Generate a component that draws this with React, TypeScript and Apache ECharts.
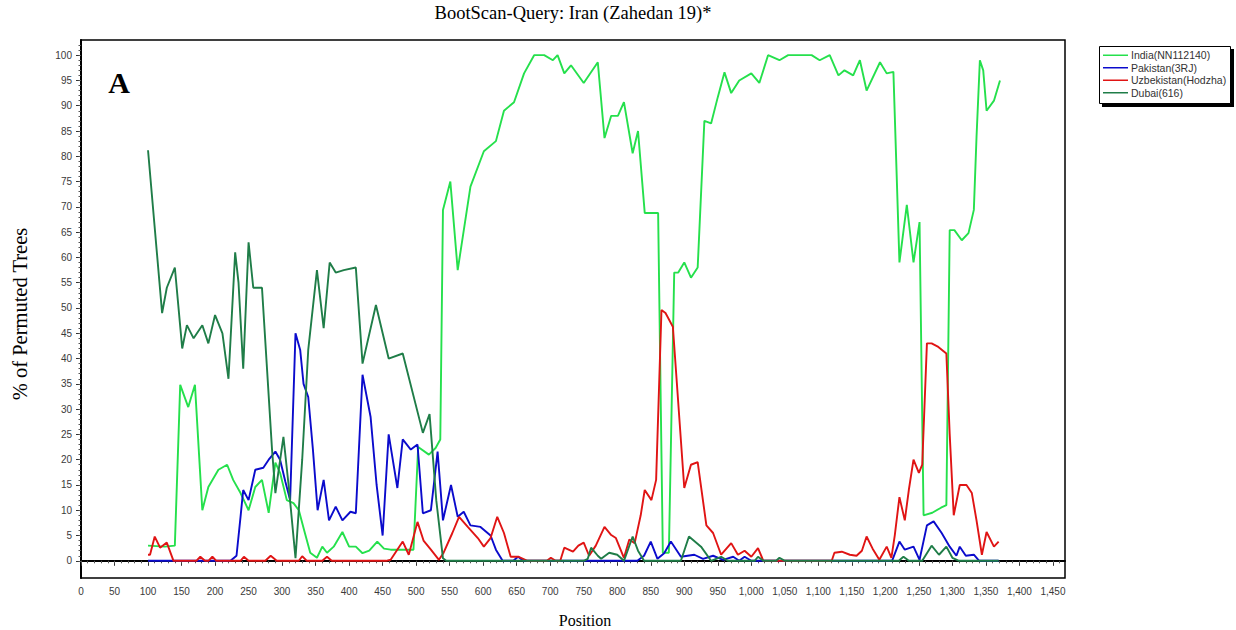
import React, { useEffect, useRef } from "react";
import * as echarts from "echarts";

const seriesNames = ["India(NN112140)", "Pakistan(3RJ)", "Uzbekistan(Hodzha)", "Dubai(616)"];
const seriesColors = ["#25e04c", "#0b0bcc", "#e01414", "#1f7d48"];

const xMajorTicks = [0, 50, 100, 150, 200, 250, 300, 350, 400, 450, 500, 550, 600, 650, 700, 750, 800, 850, 900, 950, 1000, 1050, 1100, 1150, 1200, 1250, 1300, 1350, 1400, 1450];
const yMajorTicks = [0, 5, 10, 15, 20, 25, 30, 35, 40, 45, 50, 55, 60, 65, 70, 75, 80, 85, 90, 95, 100];

const india = [
  [100, 3], [125, 2.8], [140, 3], [148, 34.8], [160, 30.4], [170, 34.8], [181, 10], [190, 14.6], [205, 18], [218, 19], [227, 16],
  [238, 13.4], [250, 10], [260, 14.6], [270, 16], [280, 9.5], [290, 19.4], [297, 17.4], [307, 12], [317, 11.4], [325, 10], [333, 6],
  [342, 1.6], [352, 0.6], [360, 2.8], [367, 1.6], [377, 2.8], [390, 5.7], [400, 2.8], [410, 2.8], [420, 1.5], [430, 2], [442, 3.8],
  [452, 2.4], [462, 2.2], [496, 2.2], [503, 22.5], [519, 21], [529, 22.3], [536, 24], [540, 69.4], [551, 75], [562, 57.5], [581, 74],
  [601, 81], [619, 83], [631, 89], [646, 90.7], [661, 96.4], [676, 100], [691, 100], [704, 99], [711, 100], [721, 96.4], [731, 98],
  [750, 94.5], [771, 98.6], [781, 83.6], [791, 88], [801, 88], [810, 90.7], [823, 80.6], [831, 85], [841, 68.8], [861, 68.8],
  [868, 1.6], [877, 1.6], [885, 57], [891, 57], [900, 59], [910, 56], [920, 58], [930, 87], [940, 86.5], [950, 91.7], [960, 96.6],
  [970, 92.5], [982, 95], [1000, 96.4], [1012, 94.5], [1025, 100], [1042, 99], [1055, 100], [1090, 100], [1102, 99], [1117, 100],
  [1130, 96], [1139, 97], [1152, 96], [1162, 99], [1172, 93], [1192, 98.6], [1202, 96.4], [1212, 96.7], [1221, 59], [1232, 70.4],
  [1242, 59], [1251, 67], [1257, 9], [1270, 9.5], [1283, 10.5], [1291, 11], [1296, 65.4], [1303, 65.4], [1314, 63.4], [1324, 64.8],
  [1332, 69.4], [1336, 83.8], [1341, 99], [1346, 97], [1351, 89], [1362, 91], [1371, 95],
];

const pakistan = [
  [100, 0], [223, 0], [232, 1], [238, 8.7], [242, 14], [250, 12], [260, 18], [272, 18.4], [280, 20], [290, 21.6], [297, 20],
  [305, 15.6], [312, 12], [320, 45], [327, 41.7], [332, 35], [339, 32.4], [346, 22], [353, 10], [362, 16], [370, 8], [380, 10.7],
  [390, 8], [402, 9.7], [410, 9.4], [420, 36.8], [432, 28.5], [441, 15], [450, 5], [459, 25], [472, 14.4], [480, 24], [492, 22],
  [502, 23], [510, 9.4], [522, 10], [532, 21.6], [540, 8], [552, 15], [562, 8.7], [571, 9.7], [581, 7], [596, 6.7], [611, 5],
  [619, 2.2], [629, 0], [645, 0], [652, 0.8], [660, 0], [830, 0], [840, 1], [850, 3.8], [860, 0.4], [870, 1.5], [880, 3.8],
  [895, 0.8], [905, 1], [915, 1.2], [928, 0.4], [943, 1], [958, 0.2], [973, 0.8], [982, 0], [990, 0.8], [1000, 0], [1210, 0],
  [1221, 3.8], [1229, 2.2], [1242, 2.8], [1251, 0.2], [1262, 7], [1272, 7.8], [1284, 5.5], [1296, 2.8], [1306, 1], [1311, 2.8],
  [1320, 1], [1332, 1.2], [1340, 0], [1369, 0],
];

const uzbekistan = [
  [100, 1.2], [103, 1.2], [110, 4.8], [118, 2.6], [128, 3.6], [138, 0], [172, 0], [178, 0.8], [185, 0], [190, 0], [196, 0.8],
  [202, 0], [238, 0], [243, 0.8], [250, 0], [275, 0], [283, 1], [292, 0], [325, 0], [330, 0.9], [337, 0], [360, 0], [367, 0.8],
  [374, 0], [455, 0], [462, 0.2], [480, 3.8], [489, 1.2], [502, 7.7], [511, 4], [522, 2.2], [534, 0.2], [541, 1.6], [554, 5.5],
  [564, 8.7], [577, 6.7], [592, 4.5], [601, 2.8], [611, 4.5], [621, 8.7], [631, 5.5], [641, 0.8], [653, 0.8], [666, 0], [695, 0],
  [701, 0.6], [708, 0], [715, 0], [721, 2.6], [734, 1.8], [742, 3], [750, 3.6], [758, 1], [768, 3], [781, 6.7], [791, 5.1],
  [798, 4.5], [810, 0.6], [818, 4.2], [826, 3.5], [835, 9], [841, 14], [851, 12], [858, 16], [866, 49.6], [872, 49], [883, 46.3],
  [900, 14.4], [910, 19], [920, 19.5], [933, 7], [943, 5.5], [955, 1.2], [970, 3.5], [980, 1.2], [990, 2], [1000, 0.8], [1010, 2.5],
  [1018, 0], [1120, 0], [1124, 1.6], [1135, 1.8], [1147, 1.2], [1157, 1], [1165, 2], [1172, 4.8], [1181, 2.4], [1191, 0.2],
  [1202, 2.8], [1209, 0.6], [1214, 5], [1221, 12.6], [1229, 8], [1235, 14], [1242, 20], [1250, 17.4], [1255, 19], [1262, 43],
  [1269, 43], [1279, 42.3], [1291, 41], [1296, 25], [1302, 9], [1311, 15], [1321, 15], [1329, 13.4], [1336, 8], [1344, 1.2],
  [1351, 5.7], [1362, 2.8], [1369, 3.8],
];

const dubai = [
  [100, 81.2], [121, 49], [128, 54], [140, 58], [151, 42], [158, 46.6], [168, 44], [181, 46.6], [190, 43], [200, 48.6], [211, 45],
  [220, 36], [230, 61], [235, 55], [242, 38], [250, 63], [257, 54], [270, 54], [285, 22], [290, 13.4], [302, 24.5], [310, 14.6],
  [320, 0.5], [330, 20], [339, 41.7], [352, 57.5], [362, 46], [371, 59], [380, 57], [392, 57.5], [410, 58], [420, 39], [440, 50.6],
  [459, 40], [480, 41], [510, 25.3], [520, 29], [530, 12], [540, 0.5], [545, 0], [750, 0], [756, 0.4], [761, 2.6], [771, 1],
  [776, 0.4], [788, 1.6], [800, 1.2], [810, 0], [823, 4.8], [831, 2], [840, 0], [895, 0], [907, 4.8], [925, 2.8], [940, 0],
  [955, 0.8], [965, 0], [1005, 0], [1010, 0.8], [1018, 0], [1037, 0], [1042, 0.6], [1050, 0], [1220, 0], [1227, 0.8], [1235, 0],
  [1255, 0], [1269, 3], [1280, 1.2], [1291, 2.8], [1300, 0.6], [1310, 0], [1369, 0],
];

const seriesData = [india, pakistan, uzbekistan, dubai];

export default function App() {
  const ref = useRef<HTMLDivElement>(null);
  useEffect(() => {
    if (!ref.current) return;
    const chart = echarts.init(ref.current, undefined, { renderer: "svg" });
    const xMinor: number[] = [];
    for (let v = 0; v <= 1460; v += 10) xMinor.push(v);
    const yMinor: number[] = [];
    for (let v = 0; v <= 102; v += 1) yMinor.push(v);
    const serif = "'Liberation Serif', 'Times New Roman', serif";
    const sans = "'Liberation Sans', Arial, sans-serif";
    chart.setOption({
      animation: false,
      backgroundColor: "#ffffff",
      grid: { left: 81, top: 40, width: 984, height: 538, show: true, borderColor: "#000", borderWidth: 1.5, backgroundColor: "transparent" },
      xAxis: [
        {
          type: "value", min: 0, max: 1468, position: "bottom",
          axisLine: { lineStyle: { color: "#000", width: 2 } },
          axisTick: { show: true, customValues: xMajorTicks, length: 5, lineStyle: { color: "#333" } },
          axisLabel: { customValues: xMajorTicks, fontSize: 10, color: "#3a3a3a", fontFamily: sans, margin: 8,
            formatter: (v: number) => v.toLocaleString("en-US") },
          splitLine: { show: false },
        },
        {
          type: "value", min: 0, max: 1468, position: "bottom",
          axisLine: { show: false },
          axisTick: { show: true, customValues: xMinor, length: 2.5, lineStyle: { color: "#555" } },
          axisLabel: { show: false },
          splitLine: { show: false },
        },
      ],
      yAxis: [
        {
          type: "value", min: -3.4, max: 103,
          axisLine: { show: true, lineStyle: { color: "#000", width: 2 } },
          axisTick: { show: true, customValues: yMajorTicks, length: 5, lineStyle: { color: "#333" } },
          axisLabel: { customValues: yMajorTicks, fontSize: 10, color: "#3a3a3a", fontFamily: sans, margin: 9 },
          splitLine: { show: false },
        },
        {
          type: "value", min: -3.4, max: 103, position: "left",
          axisLine: { show: false },
          axisTick: { show: true, customValues: yMinor, length: 2.5, lineStyle: { color: "#555" } },
          axisLabel: { show: false },
          splitLine: { show: false },
        },
      ],
      legend: {
        orient: "vertical", left: 1103, top: 49, padding: 0, itemGap: 0,
        icon: "rect", itemWidth: 25, itemHeight: 1.5,
        textStyle: { fontSize: 10.5, fontFamily: sans, color: "#333", lineHeight: 12.5, padding: [0, 0, 0, -2] },
        data: seriesNames,
        z: 10,
      },
      graphic: [
        { type: "rect", z: 1, shape: { x: 1102, y: 49, width: 132, height: 58 }, style: { fill: "#000" } },
        { type: "rect", z: 2, shape: { x: 1099.5, y: 46.5, width: 131, height: 57 }, style: { fill: "#fff", stroke: "#000", lineWidth: 1 } },
        { type: "text", x: 573, y: 13, style: { text: "BootScan-Query: Iran (Zahedan 19)*", fontSize: 18.5, fontFamily: serif, fill: "#000", align: "center", verticalAlign: "middle", textAlign: "center", textVerticalAlign: "middle" } },
        { type: "text", x: 20, y: 314, rotation: Math.PI / 2, style: { text: "% of Permuted Trees", fontSize: 20.5, fontFamily: serif, fill: "#000", align: "center", verticalAlign: "middle", textAlign: "center", textVerticalAlign: "middle" } },
        { type: "text", x: 585, y: 620, style: { text: "Position", fontSize: 16, fontFamily: serif, fill: "#000", align: "center", verticalAlign: "middle", textAlign: "center", textVerticalAlign: "middle" } },
        { type: "text", x: 119, y: 82, style: { text: "A", fontSize: 30, fontWeight: "bold", fontFamily: serif, fill: "#000", align: "center", verticalAlign: "middle", textAlign: "center", textVerticalAlign: "middle" } },
      ],
      series: seriesNames.map((name, i) => ({
        name,
        type: "line",
        data: seriesData[i],
        showSymbol: false,
        symbol: "none",
        color: seriesColors[i],
        lineStyle: { color: seriesColors[i], width: 1.9 },
        xAxisIndex: 0,
        yAxisIndex: 0,
        z: 3,
      })),
    });
    return () => chart.dispose();
  }, []);
  return <div ref={ref} style={{ position: "fixed", left: 0, top: 0, width: 1236, height: 630, background: "#fff" }} />;
}
